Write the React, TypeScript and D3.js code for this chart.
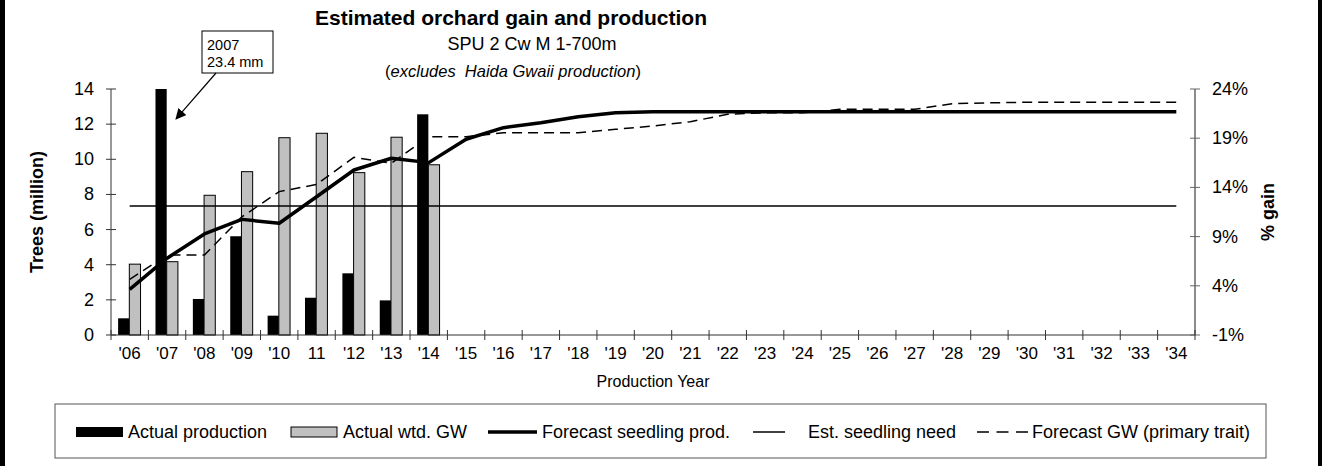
import * as d3 from "d3";

const years = [
  "'06", "'07", "'08", "'09", "'10", "11", "'12", "'13", "'14", "'15",
  "'16", "'17", "'18", "'19", "'20", "'21", "'22", "'23", "'24", "'25",
  "'26", "'27", "'28", "'29", "'30", "'31", "'32", "'33", "'34",
];
// trees (million), left axis; 2007 is off the chart (23.4)
const actualProduction = [0.95, 23.4, 2.05, 5.62, 1.1, 2.12, 3.51, 1.97, 12.56];
// % gain, right axis
const actualWtdGW = [6.2, 6.45, 13.2, 15.6, 19.05, 19.5, 15.5, 19.1, 16.3];
const forecastSeedlingProd = [
  2.6, 4.37, 5.75, 6.58, 6.36, 7.87, 9.39, 10.06, 9.81, 11.14,
  11.8, 12.08, 12.42, 12.65, 12.7, 12.71, 12.71, 12.71, 12.71, 12.71,
  12.71, 12.71, 12.71, 12.71, 12.71, 12.71, 12.71, 12.71, 12.71,
];
const estSeedlingNeed = 7.34;
const forecastGW = [
  4.66, 7.13, 7.13, 11.0, 13.57, 14.3, 17.06, 16.45, 19.15, 19.15,
  19.56, 19.56, 19.56, 19.9, 20.24, 20.68, 21.43, 21.59, 21.59, 21.94,
  21.94, 21.94, 22.5, 22.6, 22.65, 22.65, 22.65, 22.65, 22.65,
];
const leftTicks = [0, 2, 4, 6, 8, 10, 12, 14];
const rightTicks = [-1, 4, 9, 14, 19, 24];

const W = 1322;
const H = 466;
const font = "'Liberation Sans', Arial, sans-serif";

export default function App() {
  const left = 111;
  const right = 1195;
  const top = 89;
  const bottom = 335;

  const x = d3.scaleBand<string>().domain(years).range([left, right]);
  const bw = x.bandwidth();
  const x1 = d3
    .scaleBand<string>()
    .domain(["prod", "gw"])
    .range([bw * 0.19, bw * 0.79]);
  const yL = d3.scaleLinear().domain([0, 14]).range([bottom, top]).clamp(true);
  const yR = d3.scaleLinear().domain([-1, 24]).range([bottom, top]);
  const cx = (i: number) => (x(years[i]) ?? 0) + bw / 2;

  const prodLine = d3
    .line<number>()
    .x((_, i) => cx(i))
    .y((d) => yL(d));
  const gwLine = d3
    .line<number>()
    .x((_, i) => cx(i))
    .y((d) => yR(d));

  const boundaries = years.map((y) => x(y) ?? 0).concat([right]);

  // annotation arrow points at the clipped 2007 bar
  const tipX = cx(1) + 9;
  const tipY = yL(12.3);

  return (
    <svg
      width={W}
      height={H}
      style={{ position: "absolute", left: 0, top: 0, background: "#fff" }}
      fontFamily={font}
    >
      <defs>
        <marker
          id="arr"
          viewBox="0 0 10 10"
          refX="9"
          refY="5"
          markerWidth="9"
          markerHeight="9"
          orient="auto"
        >
          <path d="M0,0 L10,5 L0,10 z" fill="#000" />
        </marker>
      </defs>
      <rect x={0} y={0} width={5} height={H} fill="#000" />
      <rect x={1318} y={0} width={4} height={H} fill="#000" />

      {/* titles */}
      <text x={511} y={25} textAnchor="middle" fontSize={21} fontWeight="bold">
        Estimated orchard gain and production
      </text>
      <text x={532} y={50} textAnchor="middle" fontSize={18}>
        SPU 2 Cw M 1-700m
      </text>
      <text
        x={513}
        y={77}
        textAnchor="middle"
        fontSize={16.5}
        style={{ whiteSpace: "pre" }}
      >
        (<tspan fontStyle="italic">{"excludes  Haida Gwaii production"}</tspan>)
      </text>

      {/* bars */}
      {actualProduction.map((v, i) => (
        <rect
          key={"p" + i}
          x={(x(years[i]) ?? 0) + (x1("prod") ?? 0)}
          y={yL(v)}
          width={x1.bandwidth()}
          height={bottom - yL(v)}
          fill="#000"
        />
      ))}
      {actualWtdGW.map((v, i) => (
        <rect
          key={"g" + i}
          x={(x(years[i]) ?? 0) + (x1("gw") ?? 0)}
          y={yR(v)}
          width={x1.bandwidth()}
          height={bottom - yR(v)}
          fill="#c0c0c0"
          stroke="#000"
          strokeWidth={1}
        />
      ))}

      {/* lines */}
      <line
        x1={cx(0)}
        x2={cx(years.length - 1)}
        y1={yL(estSeedlingNeed)}
        y2={yL(estSeedlingNeed)}
        stroke="#000"
        strokeWidth={1.5}
      />
      <path
        d={gwLine(forecastGW) ?? ""}
        fill="none"
        stroke="#000"
        strokeWidth={1.5}
        strokeDasharray="10,6"
      />
      <path
        d={prodLine(forecastSeedlingProd) ?? ""}
        fill="none"
        stroke="#000"
        strokeWidth={3.5}
        strokeLinejoin="round"
      />

      {/* axes */}
      <line x1={left} x2={left} y1={top} y2={bottom} stroke="#333" />
      <line x1={right} x2={right} y1={top} y2={bottom} stroke="#666" strokeWidth={1.5} />
      <line x1={left} x2={right} y1={bottom} y2={bottom} stroke="#333" />
      {leftTicks.map((t) => (
        <g key={"l" + t}>
          <line x1={left - 5} x2={left + 5} y1={yL(t)} y2={yL(t)} stroke="#333" />
          <text x={left - 17} y={yL(t) + 6} textAnchor="end" fontSize={18}>
            {t}
          </text>
        </g>
      ))}
      {rightTicks.map((t) => (
        <g key={"r" + t}>
          <line x1={right - 5} x2={right + 5} y1={yR(t)} y2={yR(t)} stroke="#666" />
          <text x={right + 17} y={yR(t) + 6} fontSize={18}>
            {t}%
          </text>
        </g>
      ))}
      {boundaries.map((b, i) => (
        <line key={"b" + i} x1={b} x2={b} y1={bottom - 5} y2={bottom + 5} stroke="#333" />
      ))}
      {years.map((y, i) => (
        <text key={"x" + i} x={cx(i)} y={359} textAnchor="middle" fontSize={17}>
          {y}
        </text>
      ))}
      <text x={(left + right) / 2} y={387} textAnchor="middle" fontSize={16}>
        Production Year
      </text>
      <text
        transform={`translate(43,${(top + bottom) / 2}) rotate(-90)`}
        textAnchor="middle"
        fontSize={18}
        fontWeight="bold"
      >
        Trees (million)
      </text>
      <text
        transform={`translate(1274,${(top + bottom) / 2}) rotate(-90)`}
        textAnchor="middle"
        fontSize={18}
        fontWeight="bold"
      >
        % gain
      </text>

      {/* annotation */}
      <rect x={202} y={31} width={71} height={42} fill="#fff" stroke="#000" />
      <text x={207} y={50} fontSize={14.5}>2007</text>
      <text x={207} y={67} fontSize={14.5}>23.4 mm</text>
      <line
        x1={216}
        y1={73}
        x2={tipX}
        y2={tipY}
        stroke="#000"
        strokeWidth={1.2}
        markerEnd="url(#arr)"
      />

      {/* legend */}
      <rect x={55} y={404} width={1211} height={54} fill="#fff" stroke="#555" />
      <rect x={76} y={427} width={47} height={10} fill="#000" />
      <text x={128} y={438} fontSize={18}>Actual production</text>
      <rect x={291} y={427} width={46} height={10} fill="#c0c0c0" stroke="#000" />
      <text x={343} y={438} fontSize={18}>Actual wtd. GW</text>
      <line x1={488} x2={537} y1={432} y2={432} stroke="#000" strokeWidth={3.5} />
      <text x={542} y={438} fontSize={18}>Forecast seedling prod.</text>
      <line x1={753} x2={785} y1={432} y2={432} stroke="#000" strokeWidth={1.5} />
      <text x={808} y={438} fontSize={18}>Est. seedling need</text>
      <line
        x1={977}
        x2={1028}
        y1={432}
        y2={432}
        stroke="#000"
        strokeWidth={1.5}
        strokeDasharray="12,7.5"
      />
      <text x={1032} y={438} fontSize={18}>Forecast GW (primary trait)</text>
    </svg>
  );
}
